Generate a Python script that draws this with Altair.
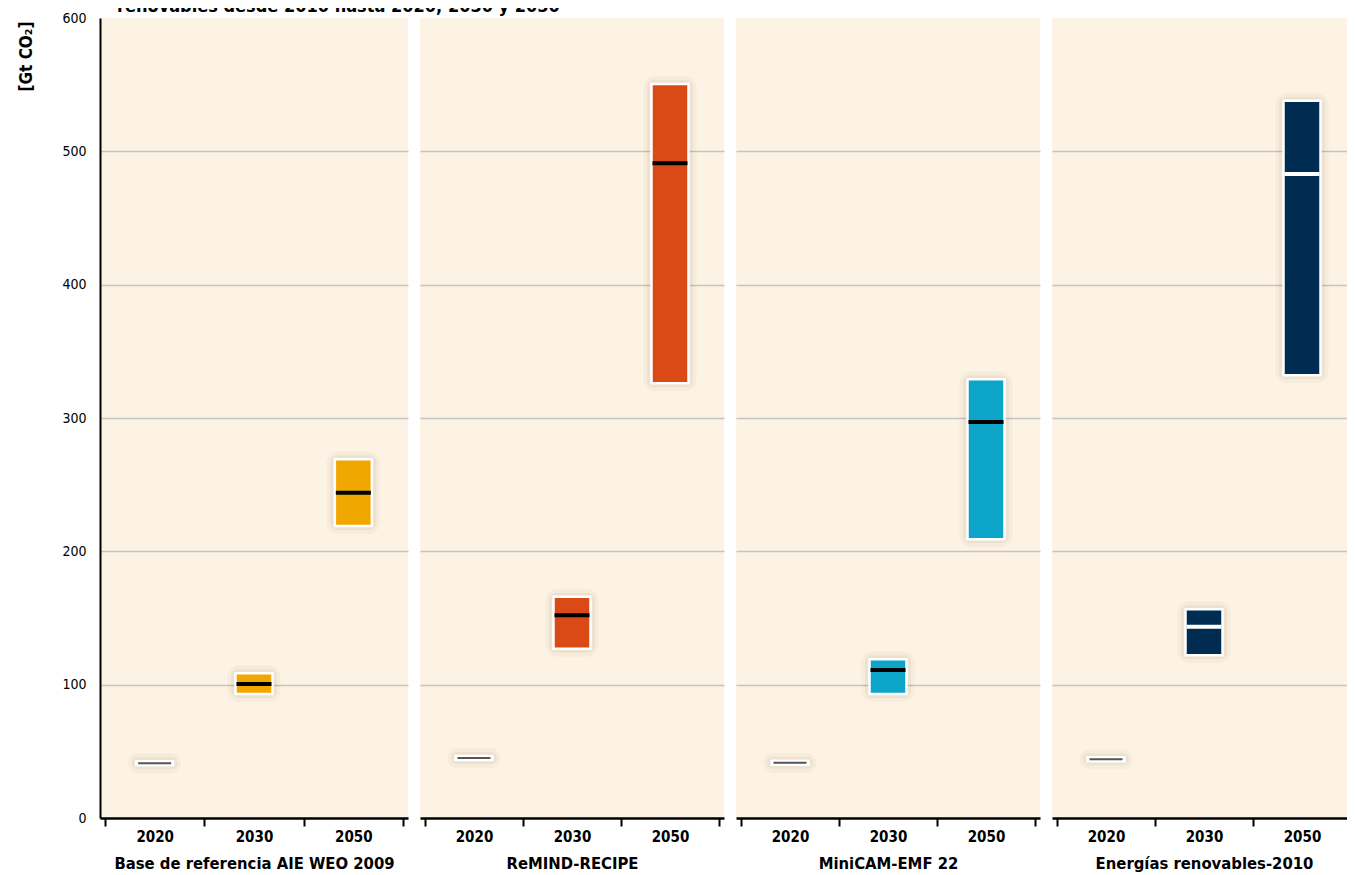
import altair as alt
import pandas as pd

title_text = "renovables desde 2010 hasta 2020, 2030 y 2050"
y_title = "[Gt CO₂]"
panels = ["Base de referencia AIE WEO 2009", "ReMIND-RECIPE", "MiniCAM-EMF 22", "Energías renovables-2010"]
years = ["2020", "2030", "2050"]
colors = ["#F0A800", "#D94A17", "#0CA4C9", "#012C52"]
median_colors = ["#000000", "#000000", "#000000", "#FFFFFF"]
low = [[39.5, 93, 219], [43.5, 127, 326], [40, 93, 209], [42.5, 122, 332]]
mid = [[41, 100.5, 244], [45, 152, 491], [41.5, 111, 297], [44, 143.5, 483]]
high = [[42.5, 108.5, 269], [46.5, 166, 550.5], [43, 119, 329], [45.5, 156.5, 538]]
y_ticks = [0, 100, 200, 300, 400, 500, 600]
widths = [308, 304, 304, 304]

FONT = "Liberation Sans Narrow, Arial Narrow, DejaVu Sans Condensed, sans-serif"
BG = "#FDF3E4"
GRID = "#C4C4C4"

years_js = "[" + ",".join("'%s'" % y for y in years) + "]"
label_expr = f"(datum.value % 1 == 0.5) ? {years_js}[floor(datum.value)] : ''"

charts = []
for i, panel in enumerate(panels):
    df = pd.DataFrame({
        "year": years,
        "pos": [k + 0.5 for k in range(len(years))],
        "low": low[i],
        "mid": mid[i],
        "high": high[i],
    })
    x_enc = alt.X(
        "pos:Q",
        scale=alt.Scale(domain=[0, len(years)], nice=False, zero=False),
        axis=alt.Axis(
            values=[k / 2 for k in range(2 * len(years) + 1)],
            labelExpr=label_expr,
            tickOpacity={"condition": {"test": "datum.value % 1 == 0", "value": 1}, "value": 0},
            tickSize=8, tickWidth=2, tickColor="#000000",
            domainColor="#000000", domainWidth=2.5,
            labelFont=FONT, labelFontSize=15, labelFontWeight="bold", labelColor="#000000",
            labelPadding=3, labelOverlap=False, labelFlush=False,
            grid=False,
            title=panel, titleFont=FONT, titleFontSize=16.5, titleFontWeight="bold",
            titleColor="#000000", titlePadding=11,
        ),
    )
    y_scale = alt.Scale(domain=[0, 600], nice=False, zero=True)
    grid_op = {"condition": {"test": "datum.value > 0 && datum.value < 600", "value": 1}, "value": 0}
    if i == 0:
        y_axis = alt.Axis(
            values=y_ticks, grid=True, gridColor=GRID, gridWidth=1.5, gridOpacity=grid_op,
            ticks=False, domainColor="#000000", domainWidth=2,
            labelFont=FONT, labelFontSize=14, labelColor="#000000", labelPadding=14,
            title=y_title, titleFont=FONT, titleFontSize=17, titleFontWeight="bold",
            titleColor="#000000", titleAngle=270, titleX=-74, titleY=38,
            titleAlign="center", titleBaseline="middle",
        )
    else:
        y_axis = alt.Axis(
            values=y_ticks, grid=True, gridColor=GRID, gridWidth=1.5, gridOpacity=grid_op,
            ticks=False, domain=False, labels=False, title=None,
        )

    base = alt.Chart(df)
    y_low = alt.Y("low:Q", scale=y_scale, axis=y_axis)
    shadow1 = base.mark_bar(size=53, color="#6b5530", opacity=0.045, cornerRadius=12,
                            yOffset=8, y2Offset=-8).encode(x=x_enc, y=y_low, y2="high:Q")
    shadow2 = base.mark_bar(size=46, color="#6b5530", opacity=0.07, cornerRadius=7,
                            yOffset=4, y2Offset=-4).encode(x=x_enc, y=y_low, y2="high:Q")
    box = base.mark_bar(size=37, stroke="white", strokeWidth=2.5).encode(
        x=x_enc,
        y=y_low,
        y2="high:Q",
        fill=alt.condition(f"datum.year == '{years[0]}'", alt.value("white"), alt.value(colors[i])),
    )
    med = base.transform_filter(f"datum.year != '{years[0]}'").mark_tick(
        orient="horizontal", size=35, thickness=4, color=median_colors[i], opacity=1
    ).encode(x=x_enc, y=alt.Y("mid:Q", scale=y_scale, axis=y_axis))
    med0 = base.transform_filter(f"datum.year == '{years[0]}'").mark_tick(
        orient="horizontal", size=33, thickness=2, color="#555555", opacity=1
    ).encode(x=x_enc, y=alt.Y("mid:Q", scale=y_scale, axis=y_axis))
    charts.append(
        alt.layer(shadow1, shadow2, box, med, med0).properties(
            width=widths[i], height=800, view=alt.ViewBackground(fill=BG, stroke=None)
        )
    )

# title strip: the reference shows only the bottom of this (cut-off) title line
strip = alt.Chart(pd.DataFrame({"t": [title_text]})).mark_text(
    font=FONT, fontSize=18, fontWeight="bold", color="#000000",
    align="left", baseline="alphabetic", clip=True,
).encode(text="t:N", x=alt.value(17), y=alt.value(4)).properties(
    width=520, height=10, view=alt.ViewBackground(fill="white", stroke=None)
)

panels_row = alt.hconcat(*charts, spacing=12, bounds="flush")

chart = alt.vconcat(strip, panels_row, spacing=0, bounds="flush").properties(
    autosize=alt.AutoSizeParams(type="none"),
    padding={"left": 92, "top": 0, "right": 1247, "bottom": 866},
    background="white",
).configure_view(stroke=None)

chart.save("out.html", embed_options={"renderer": "svg", "actions": False})
